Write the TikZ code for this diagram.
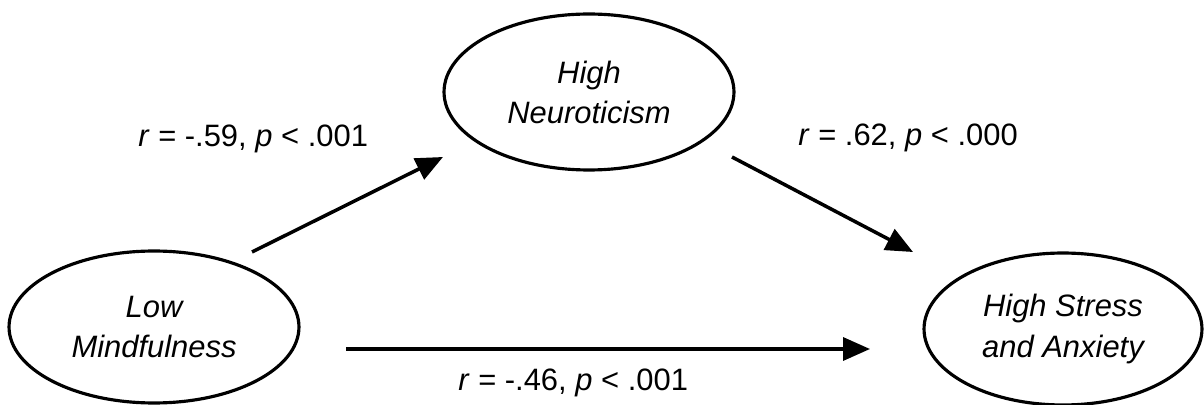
\documentclass[tikz,border=0pt]{standalone}
\usepackage{fontspec}
\setmainfont{Liberation Sans}
\usetikzlibrary{arrows.meta, positioning, shapes.geometric}

\begin{document}
\begin{tikzpicture}[
    x=0.02cm, y=-0.02cm,
    >={Triangle[length=0.54cm, width=0.46cm]},
    var/.style={draw, ellipse, line width=1.8pt, inner sep=0pt, align=center,
        minimum width=5.8cm, minimum height=3.04cm,
        font=\fontsize{17.6}{22.8}\selectfont\itshape},
    stat/.style={font=\fontsize{17.6}{22.8}\selectfont, anchor=base west, inner sep=0pt},
    link/.style={->, line width=2pt},
]
    \useasboundingbox (0,0) rectangle (1204,405);

    \node[var] (low) at (154,327) {Low\\Mindfulness};
    \node[var, minimum height=3.12cm] (neuro) at (589,92) {High\\Neuroticism};
    \node[var, minimum width=5.56cm] (stress) at (1063,329) {High Stress\\and Anxiety};

    % arrow ends, kept clear of the ellipses
    \coordinate (a1) at (252,252);
    \coordinate (b1) at (443,157);
    \coordinate (a2) at (732,157);
    \coordinate (b2) at (913,252);
    \coordinate (a3) at (346,349);
    \coordinate (b3) at (870,349);

    \draw[link] (a1) -- (b1);
    \draw[link] (a2) -- (b2);
    \draw[link] (a3) -- (b3);

    \node[stat] (r1) at (138,147) {\textit{r} = -.59, \textit{p} < .001};
    \node[stat] (r2) at (798,146) {\textit{r} = .62, \textit{p} < .000};
    \node[stat] (r3) at (458,390) {\textit{r} = -.46, \textit{p} < .001};
\end{tikzpicture}
\end{document}
